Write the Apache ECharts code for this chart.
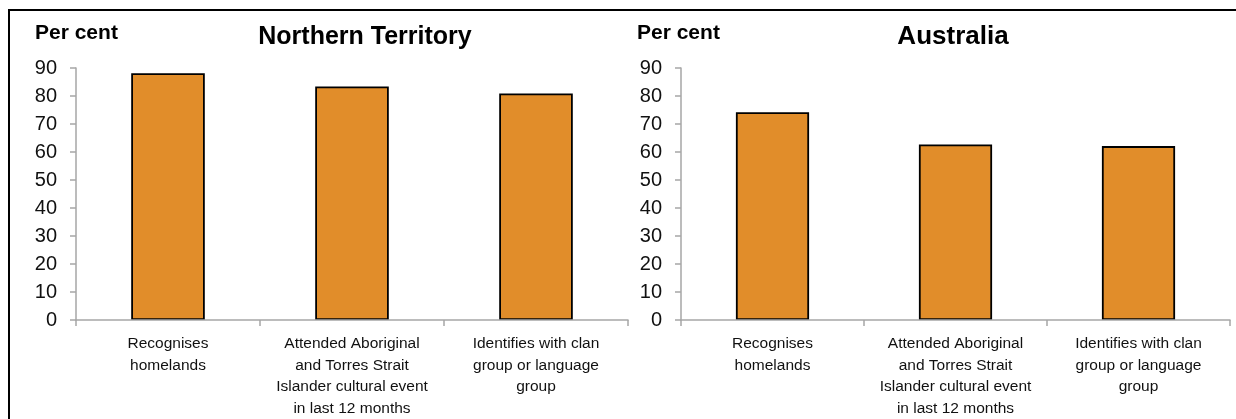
<!DOCTYPE html>
<html>
<head>
<meta charset="utf-8">
<script src="https://cdn.jsdelivr.net/npm/echarts@6/dist/echarts.min.js"></script>
<style>
html,body{margin:0;padding:0;background:#fff;}
#chart{width:1236px;height:419px;}
</style>
</head>
<body>
<div id="chart"></div>
<script>
var categories = [
  'Recognises\nhomelands',
  'Attended Aboriginal\nand Torres Strait\nIslander cultural event\nin last 12 months',
  'Identifies with clan\ngroup or language\ngroup'
];
var ntValues = [88.1, 83.4, 80.9];
var ausValues = [74.2, 62.7, 62.1];
var panelTitles = ['Northern Territory', 'Australia'];
var yAxisName = 'Per cent';
var yMin = 0, yMax = 90, yStep = 10;

var FONT = 'Liberation Sans, Arial, sans-serif';
var AXIS_GREY = '#A6A6A6';
var BAR_FILL = '#E18D2A';

var chart = echarts.init(document.getElementById('chart'));

function xAxisCfg(gi) {
  return {
    type: 'category', gridIndex: gi, data: categories, z: 10,
    axisLine: {show: true, lineStyle: {color: AXIS_GREY, width: 1.5}},
    axisTick: {show: true, length: 6, lineStyle: {color: AXIS_GREY, width: 1.5}},
    axisLabel: {interval: 0, color: '#111', fontFamily: FONT, fontSize: 15.5, lineHeight: 21.5, margin: 13}
  };
}
function yAxisCfg(gi) {
  return {
    type: 'value', gridIndex: gi, min: yMin, max: yMax, interval: yStep,
    splitLine: {show: false},
    axisLine: {show: true, lineStyle: {color: AXIS_GREY, width: 1.5}},
    axisTick: {show: true, length: 6, lineStyle: {color: AXIS_GREY, width: 1.5}},
    axisLabel: {color: '#111', fontFamily: FONT, fontSize: 20, margin: 19}
  };
}
function barSeries(gi, vals) {
  return {
    type: 'bar', xAxisIndex: gi, yAxisIndex: gi, data: vals, barWidth: '40%',
    itemStyle: {color: BAR_FILL, borderColor: '#000', borderWidth: 1.8}
  };
}

chart.setOption({
  animation: false,
  grid: [
    {left: 76, top: 68, width: 552, height: 254},
    {left: 681, top: 68, width: 549, height: 254}
  ],
  xAxis: [xAxisCfg(0), xAxisCfg(1)],
  yAxis: [yAxisCfg(0), yAxisCfg(1)],
  series: [barSeries(0, ntValues), barSeries(1, ausValues)],
  graphic: [
    {type: 'rect', shape: {x: 9, y: 10, width: 1400, height: 600}, style: {fill: 'none', stroke: '#000', lineWidth: 2}, z: 100},
    {type: 'text', x: 35, y: 33, style: {text: yAxisName, font: 'bold 21px ' + FONT, fill: '#000', textVerticalAlign: 'middle'}},
    {type: 'text', x: 365, y: 37, style: {text: panelTitles[0], font: 'bold 25px ' + FONT, fill: '#000', textAlign: 'center', textVerticalAlign: 'middle'}},
    {type: 'text', x: 637, y: 33, style: {text: yAxisName, font: 'bold 21px ' + FONT, fill: '#000', textVerticalAlign: 'middle'}},
    {type: 'text', x: 953, y: 37, style: {text: panelTitles[1], font: 'bold 26px ' + FONT, fill: '#000', textAlign: 'center', textVerticalAlign: 'middle'}}
  ]
});
</script>
</body>
</html>
